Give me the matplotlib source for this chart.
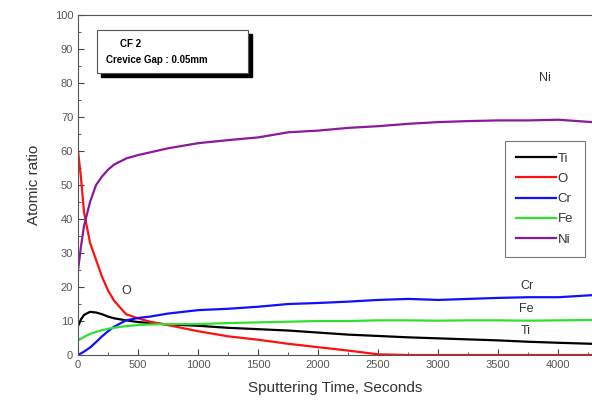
import matplotlib
matplotlib.use("Agg")
import matplotlib.pyplot as plt
from matplotlib.patches import Rectangle
from matplotlib.ticker import MultipleLocator

plt.rcParams['font.family'] = ['Liberation Sans', 'DejaVu Sans']

# Данные
time_s = [0, 25, 50, 100, 150, 200, 250, 300, 400, 500, 600, 750, 1000, 1250,
          1500, 1750, 2000, 2250, 2500, 2750, 3000, 3250, 3500, 3750, 4000, 4280]
ti = [8.5, 10.5, 11.8, 12.7, 12.5, 12.0, 11.3, 10.8, 10.2, 9.7, 9.4, 9.0, 8.6, 8.0,
      7.6, 7.2, 6.6, 6.0, 5.6, 5.2, 4.9, 4.6, 4.3, 3.9, 3.6, 3.3]
o = [60, 52, 42, 33, 28, 23, 19, 16, 12, 10.8, 9.8, 8.8, 7.0, 5.5,
     4.5, 3.3, 2.3, 1.3, 0.2, 0, 0, 0, 0, 0, 0, 0]
cr = [0, 0.5, 1.0, 2.2, 3.8, 5.5, 7.0, 8.3, 10.2, 10.9, 11.3, 12.2, 13.2, 13.6,
      14.2, 15.0, 15.3, 15.7, 16.2, 16.5, 16.2, 16.5, 16.8, 17.0, 17.0, 17.6]
fe = [4.3, 4.8, 5.3, 6.2, 6.8, 7.3, 7.7, 8.0, 8.5, 8.8, 9.0, 9.1, 9.1, 9.4,
      9.6, 9.8, 10.0, 10.0, 10.2, 10.2, 10.1, 10.2, 10.2, 10.1, 10.2, 10.3]
ni = [25, 32, 38, 45, 50, 52.5, 54.5, 56, 57.8, 58.8, 59.6, 60.8, 62.3, 63.2,
      64.0, 65.5, 66.0, 66.8, 67.3, 68.0, 68.5, 68.8, 69.0, 69.0, 69.2, 68.5]

series = [("Ti", ti, "black"), ("O", o, "#ff1010"), ("Cr", cr, "#1010ff"),
          ("Fe", fe, "#30e030"), ("Ni", ni, "#8a1a9a")]

fig = plt.figure(figsize=(5.92, 4.12), dpi=100)
ax = fig.add_axes([0.1318, 0.1383, 0.8682, 0.8253])

for name, vals, col in series:
    ax.plot(time_s, vals, color=col, lw=1.6, label=name)

ax.set_xlim(0, 4280)
ax.set_ylim(0, 100)
ax.xaxis.set_major_locator(MultipleLocator(500))
ax.xaxis.set_minor_locator(MultipleLocator(250))
ax.yaxis.set_major_locator(MultipleLocator(10))
ax.yaxis.set_minor_locator(MultipleLocator(5))
ax.tick_params(which='both', direction='in', labelsize=8, labelcolor='#555555',
               color='#444444')
ax.tick_params(which='major', length=4)
ax.tick_params(which='minor', length=2)
ax.spines['right'].set_visible(False)
for s in ['left', 'bottom', 'top']:
    ax.spines[s].set_color('#555555')

ax.set_xlabel('Sputtering Time, Seconds', fontsize=11, color='#333333', labelpad=8)
ax.set_ylabel('Atomic ratio', fontsize=11, color='#333333', labelpad=10)

# подписи кривых
ax.text(3890, 81.5, 'Ni', fontsize=9, color='#333333', ha='center', va='center')
ax.text(3735, 20.3, 'Cr', fontsize=9, color='#333333', ha='center', va='center')
ax.text(3735, 13.5, 'Fe', fontsize=9, color='#333333', ha='center', va='center')
ax.text(3730, 7.0, 'Ti', fontsize=9, color='#333333', ha='center', va='center')
ax.text(400, 18.8, 'O', fontsize=9, color='#333333', ha='center', va='center')

# рамка с подписью и тенью
bx, by, bw, bh = 0.037, 0.829, 0.294, 0.126
ax.add_patch(Rectangle((bx + 0.008, by - 0.012), bw, bh, transform=ax.transAxes,
                       facecolor='black', edgecolor='black', zorder=5))
ax.add_patch(Rectangle((bx, by), bw, bh, transform=ax.transAxes,
                       facecolor='white', edgecolor='#555555', lw=0.8, zorder=6))
ax.text(bx + 0.045, by + 0.085, 'CF 2', transform=ax.transAxes, fontsize=7,
        fontweight='bold', va='center', zorder=7)
ax.text(bx + 0.018, by + 0.04, 'Crevice Gap : 0.05mm', transform=ax.transAxes,
        fontsize=7, fontweight='bold', va='center', zorder=7)

leg = ax.legend(loc='upper left', bbox_to_anchor=(0.83, 0.63), fontsize=9.5,
                frameon=True, fancybox=False, handlelength=3.0, handletextpad=0.1,
                borderpad=0.9, borderaxespad=0, labelspacing=0.6)
leg.get_frame().set_edgecolor('#555555')
leg.get_frame().set_linewidth(0.8)
for t in leg.get_texts():
    t.set_color('#333333')

fig.savefig('out.png', dpi=100)
